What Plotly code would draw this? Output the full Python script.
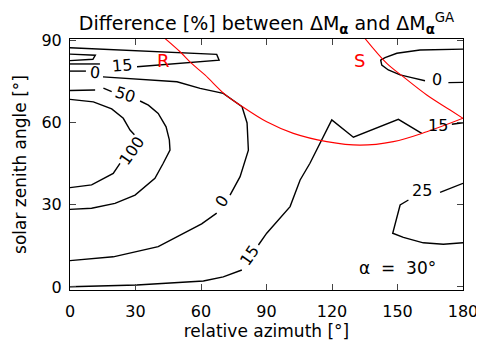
import plotly.graph_objects as go

FONT = "DejaVu Sans"

# contour lines: relative azimuth [deg], solar zenith [deg]
# None breaks the line where a level label sits
c15_top_az = [0, 13.7, None, 30.7, 68.3, 67.2, 0]
c15_top_zen = [81.3, 81.3, None, 80.3, 82.7, 84.8, 87.2]

c15_wedge_az = [0, 11.6, 10.5, 0]
c15_wedge_zen = [84.9, 84.5, 83.0, 82.5]

c0_left_az = [0, 7.3, None, 15.1, 49.0, 59.6, 70.2, 78.8, 81.1, 81.7, 77.9, 73.3,
              None, 67.2, 60.3, 40.4, 19.8, 0]
c0_left_zen = [78.7, 78.7, None, 76.6, 74.8, 72.4, 70.6, 65.7, 59.8, 49.9, 40.2, 33.5,
               None, 26.9, 23.0, 14.7, 11.0, 9.6]

c50_az = [0, 11.5, None, 15.3, 19.1, None, 32.1, 35.9, 40.4, 44.0, 45.5, 45.8, 42.7,
          38.9, 29.8, 20.6, 9.9, 0]
c50_zen = [71.6, 71.8, None, 72.5, 71.2, None, 67.8, 66.3, 63.3, 58.4, 53.6, 49.9, 45.1,
           39.6, 33.5, 30.5, 28.7, 28.3]

c100_az = [0, 10.7, 19.1, 24.4, 27.5, 29.5, None, 22.9, 19.8, 9.9, 0]
c100_zen = [68.4, 67.5, 64.9, 61.5, 57.2, 55.5, None, 45.1, 41.4, 37.2, 36.2]

c15_bot_az = [0, 30.6, 61.1, 70.2, 78.7, None, 86.3, 90.1, 100.8, 105.4, 109.9, 114.5,
              117.6, 119.9, 129.8, 150.4, 161.1, None, 174.9, 180]
c15_bot_zen = [0.1, 0.7, 2.2, 3.7, 6.2, None, 15.3, 19.6, 29.3, 39.0, 45.1, 52.4,
               57.2, 60.9, 54.6, 61.1, 56.0, None, 59.3, 59.9]

c0_right_az = [180, 160.3, 149.7, 144.3, 142.3, 142.8, 145.8, 151.2, 156.5, 162.6,
               None, 173.3, 180]
c0_right_zen = [86.7, 86.4, 85.2, 83.6, 82.7, 80.9, 79.1, 77.3, 76.3, 75.2,
                None, 74.5, 74.6]

c25_az = [180, 169.5, None, 155.0, 151.2, 147.8, 152.7, 161.8, 171.0, 180]
c25_zen = [37.8, 34.5, None, 31.7, 29.9, 19.6, 18.1, 16.1, 15.6, 16.1]

# red geometry curves
r_az = [43.5, 50.4, 55.7, 61.8, 71.0, 77.9, 90.1, 102.3, 117.6, 132.8, 148.1, 163.4, 180]
r_zen = [90.6, 85.75, 81.5, 77.3, 70.2, 66.3, 60.2, 56.0, 53.0, 51.7, 53.0, 56.6, 61.5]
s_az = [135.1, 145.1, 152.7, 163.4, 174.1, 180]
s_zen = [90.6, 81.5, 76.6, 70.0, 64.5, 61.5]

# contour level labels
lab_text = ["15", "0", "50", "100", "0", "15", "15", "0", "25"]
lab_az = [23.8, 11.5, 25.2, 28.3, 69.5, 82.1, 168.7, 168.0, 161.1]
lab_zen = [80.9, 78.2, 70.0, 49.9, 31.1, 11.6, 58.7, 75.8, 35.3]
lab_ang = [-5, 5, 18, -55, -55, -55, 0, 5, 0]

fig = go.Figure()

contours = [
    (c15_top_az, c15_top_zen), (c15_wedge_az, c15_wedge_zen),
    (c0_left_az, c0_left_zen), (c50_az, c50_zen), (c100_az, c100_zen),
    (c15_bot_az, c15_bot_zen), (c0_right_az, c0_right_zen), (c25_az, c25_zen),
]
for az, zen in contours:
    fig.add_trace(go.Scatter(x=az, y=zen, mode="lines",
                             line=dict(color="black", width=1.4),
                             connectgaps=False, hoverinfo="skip"))

for az, zen in [(r_az, r_zen), (s_az, s_zen)]:
    fig.add_trace(go.Scatter(x=az, y=zen, mode="lines",
                             line=dict(color="red", width=1.1, shape="spline"),
                             hoverinfo="skip"))

for t, x, y, a in zip(lab_text, lab_az, lab_zen, lab_ang):
    fig.add_annotation(x=x, y=y, text=t, textangle=a, showarrow=False,
                       font=dict(family=FONT, size=16, color="black"))

fig.add_annotation(x=42.6, y=82.4, text="R", showarrow=False,
                   font=dict(family=FONT, size=18, color="red"))
fig.add_annotation(x=132.8, y=82.4, text="S", showarrow=False,
                   font=dict(family=FONT, size=18, color="red"))
fig.add_annotation(x=150, y=6.8, text="α\u00a0\u00a0=\u00a0\u00a030°", showarrow=False,
                   font=dict(family=FONT, size=17, color="black"))

# the page body adds an 8 px offset, so margins are shifted to compensate
fig.update_layout(
    width=484, height=349,
    margin=dict(l=62, r=29, t=31, b=67),
    paper_bgcolor="white", plot_bgcolor="white",
    showlegend=False,
    font=dict(family=FONT, size=16, color="black"),
    title=dict(text="Difference [%] between ΔM<sub><b>α</b></sub> and ΔM<sub><b>α</b></sub><sup>GA</sup>",
               x=0.5, xref="paper", xanchor="center",
               y=1 - 15 / 349, yref="container", yanchor="middle",
               font=dict(family=FONT, size=19, color="black")),
)
fig.update_xaxes(range=[0, 180], tickvals=[0, 30, 60, 90, 120, 150, 180],
                 ticks="inside", ticklen=6, mirror="ticks", showline=True,
                 linecolor="black", linewidth=1, showgrid=False, zeroline=False,
                 automargin=False, ticklabelstandoff=7,
                 title=dict(text="relative azimuth [°]", font=dict(size=17), standoff=4))
fig.update_yaxes(range=[-1.1, 90.4], tickvals=[0, 30, 60, 90],
                 ticks="inside", ticklen=6, mirror="ticks", showline=True,
                 linecolor="black", linewidth=1, showgrid=False, zeroline=False,
                 automargin=False, ticklabelstandoff=4,
                 title=dict(text="solar zenith angle [°]", font=dict(size=17), standoff=10))

fig.write_html("out.html")
